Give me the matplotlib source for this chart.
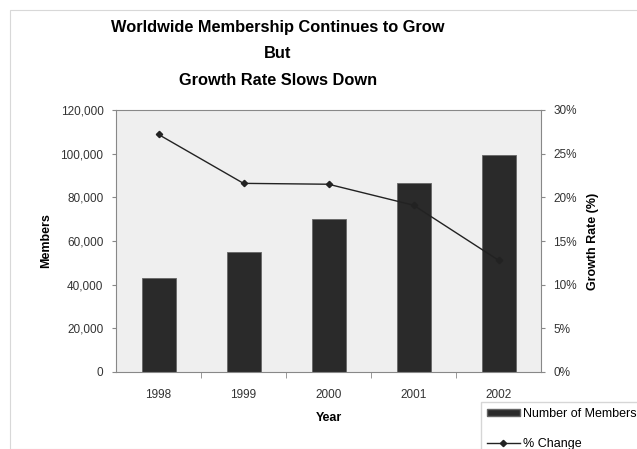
import matplotlib
matplotlib.use('Agg')
import matplotlib.pyplot as plt
from matplotlib.patches import Rectangle
from matplotlib.lines import Line2D
from matplotlib.ticker import FuncFormatter

years = ['1998', '1999', '2000', '2001', '2002']
members = [43000, 55000, 70000, 86500, 99500]
growth = [27.2, 21.6, 21.5, 19.1, 12.8]

plt.rcParams['font.family'] = ['Liberation Sans', 'DejaVu Sans']

fig = plt.figure(figsize=(6.37, 4.49), dpi=100)
W, H = 637.0, 449.0

# faint chart border
fig.patches.append(Rectangle((10 / W, 0), 1.2, 1 - 10 / H, transform=fig.transFigure,
                             fill=False, edgecolor='#d8d8d8', linewidth=0.8))

ax = fig.add_axes([116 / W, 1 - 372 / H, (541 - 116) / W, (372 - 110) / H])
ax.set_facecolor('#efefef')
x = range(len(years))
ax.bar(x, members, width=0.4, color='#2a2a2a', edgecolor='#666666', linewidth=0.6, zorder=2)
ax.set_xlim(-0.5, 4.5)
ax.set_ylim(0, 120000)
ax.set_yticks(range(0, 120001, 20000))
ax.yaxis.set_major_formatter(FuncFormatter(lambda v, p: '{:,.0f}'.format(v)))
ax.set_xticks(list(x))
ax.set_xticklabels(years)
ax.set_xticks([0.5, 1.5, 2.5, 3.5], minor=True)
ax.tick_params(axis='x', which='major', length=0, pad=12, labelsize=8.5, colors='#333333')
ax.tick_params(axis='x', which='minor', length=4, color='#888888')
ax.tick_params(axis='y', length=3, color='#888888', labelsize=8.5, labelcolor='#333333', pad=6)
for s in ax.spines.values():
    s.set_color('#888888')
    s.set_linewidth(0.8)
ax.set_xlabel('Year', fontsize=9, fontweight='bold', labelpad=8)
ax.set_ylabel('Members', fontsize=9, fontweight='bold', labelpad=6)

ax2 = ax.twinx()
ax2.plot(x, growth, color='#222222', linewidth=1, marker='D', markersize=3.2, zorder=3)
ax2.set_ylim(0, 30)
ax2.set_yticks(range(0, 31, 5))
ax2.yaxis.set_major_formatter(FuncFormatter(lambda v, p: '{:.0f}%'.format(v)))
ax2.tick_params(axis='y', length=3, color='#888888', labelsize=8.5, labelcolor='#333333', pad=6)
for s in ax2.spines.values():
    s.set_visible(False)
ax2.set_ylabel('Growth Rate (%)', fontsize=9, fontweight='bold', labelpad=7)

fig.text(278 / W, 1 - 20 / H, 'Worldwide Membership Continues to Grow\nBut\nGrowth Rate Slows Down',
         ha='center', va='top', fontsize=11.8, fontweight='bold', linespacing=1.95)

handles = [Rectangle((0, 0), 1, 1, facecolor='#2a2a2a', edgecolor='#666666'),
           Line2D([], [], color='#222222', linewidth=1, marker='D', markersize=3.2)]
fig.legend(handles, ['Number of Members', '% Change'], loc='upper left',
           bbox_to_anchor=(481 / W, 1 - 402 / H), fontsize=9, frameon=True,
           fancybox=False, edgecolor='#cccccc', handlelength=2.6, handleheight=0.45,
           handletextpad=0.25, borderpad=0.5, labelspacing=1.45, borderaxespad=0)

fig.savefig('out.png', dpi=100, facecolor='white')
